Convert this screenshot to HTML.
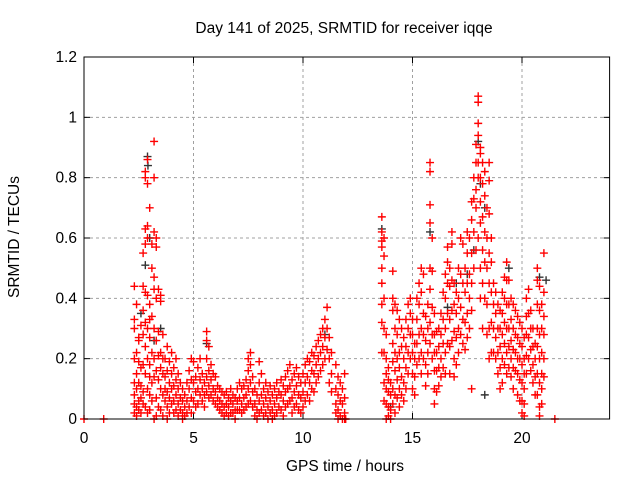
<!DOCTYPE html>
<html><head><meta charset="utf-8"><style>
html,body{margin:0;padding:0;background:#fff}
svg{display:block;font-family:"Liberation Sans",sans-serif}
</style></head><body>
<svg id="chart" width="640" height="480" viewBox="0 0 640 480" xmlns="http://www.w3.org/2000/svg">
<rect x="0" y="0" width="640" height="480" fill="#fff"/>
<text x="344" y="33" font-size="15.5" text-anchor="middle">Day 141 of 2025, SRMTID for receiver iqqe</text>
<text x="345" y="471" font-size="15.5" text-anchor="middle">GPS time / hours</text>
<text x="0" y="0" font-size="15.5" text-anchor="middle" transform="translate(19,237) rotate(-90)">SRMTID / TECUs</text>
<g id="grid"></g><g id="axes"></g><g id="blk"></g><g id="red"></g>
<rect x="84" y="57" width="525.6" height="362" fill="none" stroke="#000" stroke-width="1"/>
</svg>
<script>
const xTicks=[0,5,10,15,20];
const xTickLabels=["0","5","10","15","20"];
const yTicks=[0,0.2,0.4,0.6,0.8,1.0,1.2];
const yTickLabels=["0","0.2","0.4","0.6","0.8","1","1.2"];
const redTimes=[0,0.9,11.95,21.5,2.3,2.4,2.5,2.6,2.7,2.8,2.9,3.0,3.1,3.2,3.3,3.4,3.5,3.6,3.7,3.8,3.9,4.0,4.1,4.2,4.3,4.4,4.5,4.6,4.7,4.8,4.9,5.0,5.1,5.2,5.3,5.4,5.5,5.6,5.7,5.8,5.9,6.0,6.1,6.2,6.3,6.4,6.5,6.6,6.7,6.8,6.9,7.0,7.1,7.2,7.3,7.4,7.5,7.6,7.7,7.8,7.9,8.0,8.1,8.2,8.3,8.4,8.5,8.6,8.7,8.8,8.9,9.0,9.1,9.2,9.3,9.4,9.5,9.6,9.7,9.8,9.9,10.0,10.1,10.2,10.3,10.4,10.5,10.6,10.7,10.8,10.9,11.0,11.1,11.2,11.3,11.5,11.6,11.7,11.8,11.9,
13.6,13.7,13.8,13.9,14.0,14.1,14.2,14.3,14.4,14.5,14.6,14.7,14.8,14.9,15.0,15.1,15.2,15.3,15.4,15.5,15.6,15.7,15.8,15.9,16.0,16.1,16.2,16.3,16.4,16.5,16.6,16.7,16.8,16.9,17.0,17.1,17.2,17.3,17.4,17.5,17.6,17.7,17.8,17.9,18.0,18.1,18.2,18.3,18.4,18.5,18.6,18.7,18.8,18.9,19.0,19.1,19.2,19.3,19.4,19.5,19.6,19.7,19.8,19.9,20.0,20.1,20.2,20.3,20.4,20.5,20.6,20.7,20.8,20.9,21.0];
const redValues=[[0],[0],[0],[0],
[0.44,0.33,0.3,0.2,0.12,0.05,0.02,0.08],[0.38,0.22,0.15,0.04,0.01,0.1],[0.26,0.19,0.06,0.03,0.12,0.27],[0.31,0.17,0.07,0.02,0.11],[0.44,0.55,0.36,0.28,0.18,0.05,0.09],[0.63,0.8,0.82,0.58,0.42,0.32,0.24,0.15,0.04],[0.86,0.78,0.64,0.6,0.41,0.3,0.2,0.1,0.02],[0.7,0.38,0.33,0.27,0.18,0.08,0.03,0.14],[0.5,0.58,0.34,0.22,0.12,0.06],[0.92,0.8,0.62,0.47,0.43,0.3,0.2,0.14,0.0],[0.6,0.57,0.4,0.26,0.16,0.07,0.01],[0.43,0.29,0.21,0.13,0.04],[0.41,0.39,0.22,0.17,0.1,0.03],[0.28,0.2,0.15,0.08,0.01],[0.2,0.14,0.1,0.06],[0.24,0.16,0.09,0.04,0.0],[0.19,0.12,0.07,0.02],[0.22,0.15,0.1,0.05],[0.17,0.11,0.06,0.02],[0.2,0.13,0.08,0.03],[0.15,0.1,0.05,0.01],[0.12,0.07,0.03],[0.1,0.06,0.02,0.0],[0.08,0.04,0.01],[0.12,0.06,0.02],[0.16,0.1,0.04],[0.2,0.13,0.07,0.02],[0.19,0.12,0.06],[0.14,0.09,0.04],[0.17,0.1,0.05],[0.2,0.13,0.08],[0.15,0.1,0.06],[0.12,0.08,0.04],[0.29,0.26,0.2,0.14,0.09],[0.24,0.16,0.11,0.07],[0.18,0.13,0.08],[0.15,0.1,0.06],[0.14,0.09,0.05],[0.11,0.07,0.04],[0.1,0.06,0.03],[0.09,0.05,0.02],[0.08,0.04,0.01],[0.09,0.05,0.02],[0.07,0.04,0.01],[0.1,0.06,0.02],[0.08,0.05,0.02],[0.07,0.03,0.0],[0.1,0.06,0.03],[0.12,0.07,0.03],[0.1,0.05,0.02],[0.11,0.07,0.03],[0.13,0.08,0.04],[0.2,0.16,0.1,0.05],[0.22,0.18,0.12,0.06],[0.14,0.09,0.04],[0.1,0.05,0.01],[0.08,0.03,0.0],[0.19,0.12,0.06,0.02],[0.15,0.08,0.03],[0.1,0.05,0.01],[0.12,0.07,0.02],[0.09,0.04,0.0],[0.11,0.06,0.02],[0.08,0.03,0.0],[0.1,0.05,0.01],[0.12,0.07,0.02],[0.09,0.04],[0.13,0.08,0.03],[0.11,0.06,0.01],[0.14,0.09,0.04],[0.16,0.1,0.05],[0.18,0.11,0.06],[0.13,0.07,0.02],[0.15,0.09,0.04],[0.17,0.11,0.05],[0.14,0.08,0.03],[0.12,0.07,0.02],[0.15,0.09,0.04],[0.18,0.12,0.06],[0.2,0.14,0.08],[0.19,0.12,0.06],[0.22,0.16,0.1],[0.21,0.15,0.09],[0.24,0.18,0.12],[0.26,0.2,0.14],[0.28,0.22,0.16],[0.3,0.24,0.18],[0.33,0.27,0.2],[0.37,0.3,0.23],[0.27,0.2,0.12],[0.22,0.15,0.09],[0.18,0.1,0.05,0.02],[0.14,0.08,0.03,0.0],[0.12,0.06,0.01],[0.1,0.05,0.0],[0.15,0.07,0.02,0.0],
[0.67,0.62,0.59,0.57,0.5,0.45,0.38,0.32,0.22],[0.6,0.54,0.4,0.3,0.22,0.12,0.06],[0.28,0.2,0.15,0.1,0.05,0.0],[0.17,0.13,0.09,0.04,0.01],[0.12,0.08,0.03,0.0],[0.49,0.4,0.36,0.25,0.19,0.1,0.05],[0.38,0.3,0.22,0.16,0.08,0.02],[0.36,0.28,0.2,0.13,0.07],[0.33,0.22,0.17,0.1,0.04],[0.3,0.24,0.14,0.08],[0.27,0.2,0.12,0.06],[0.33,0.24,0.17,0.1],[0.38,0.3,0.22,0.15],[0.4,0.35,0.28,0.2],[0.33,0.28,0.22,0.15,0.1],[0.25,0.2,0.14,0.08],[0.4,0.33,0.25,0.18],[0.45,0.38,0.28,0.2],[0.5,0.42,0.3,0.22,0.15],[0.48,0.35,0.28,0.2],[0.34,0.26,0.18,0.11],[0.38,0.3,0.22,0.15],[0.85,0.82,0.71,0.65,0.5,0.43,0.32,0.25],[0.6,0.49,0.37,0.28,0.2],[0.35,0.28,0.22,0.16,0.1,0.05],[0.29,0.22,0.16,0.09],[0.3,0.24,0.17,0.11],[0.35,0.28,0.2,0.14],[0.42,0.33,0.25,0.17],[0.48,0.4,0.3,0.22,0.15],[0.57,0.52,0.45,0.35,0.25],[0.5,0.44,0.33,0.24,0.15],[0.62,0.58,0.46,0.36,0.26],[0.45,0.38,0.29,0.2,0.14],[0.42,0.35,0.27,0.18],[0.5,0.4,0.3,0.22],[0.6,0.48,0.37,0.28],[0.58,0.45,0.33,0.25],[0.5,0.42,0.32,0.23],[0.62,0.55,0.45,0.35,0.27],[0.6,0.48,0.4,0.3],[0.72,0.66,0.55,0.45,0.36,0.1],[0.8,0.73,0.62,0.5],[0.91,0.85,0.76,0.7,0.56],[1.07,1.05,0.98,0.94,0.85,0.8,0.6],[0.9,0.88,0.8,0.72,0.65,0.5,0.4],[0.85,0.78,0.67,0.56,0.45,0.3],[0.82,0.74,0.62,0.52,0.4],[0.7,0.6,0.5,0.38,0.28],[0.85,0.79,0.68,0.55,0.45,0.3,0.2],[0.6,0.52,0.42,0.32,0.22],[0.45,0.38,0.3,0.22],[0.42,0.35,0.27,0.2],[0.38,0.3,0.22,0.15],[0.36,0.3,0.24,0.17,0.1],[0.42,0.35,0.28,0.2,0.12],[0.47,0.4,0.32,0.25,0.18],[0.52,0.46,0.38,0.3,0.22,0.15],[0.46,0.38,0.3,0.24,0.17],[0.4,0.33,0.26,0.2,0.14],[0.38,0.3,0.23,0.17,0.1],[0.36,0.28,0.22,0.16],[0.34,0.27,0.2,0.15,0.08],[0.32,0.25,0.2,0.13,0.06],[0.3,0.24,0.18,0.12,0.06,0.02],[0.27,0.2,0.15,0.1,0.05,0.01],[0.4,0.34,0.28,0.21,0.15],[0.43,0.35,0.27,0.2],[0.36,0.3,0.23,0.16],[0.3,0.24,0.18,0.12],[0.25,0.2,0.14,0.08],[0.5,0.46,0.38,0.3,0.24,0.15,0.08],[0.44,0.36,0.28,0.2,0.12,0.04,0.01],[0.38,0.3,0.22,0.15,0.1,0.05],[0.55,0.42,0.34,0.28,0.2,0.14]];
const blackTimes=[2.9,2.92,2.8,3.0,2.6,3.2,3.5,5.6,11.0,13.6,14.0,15.8,16.6,17.0,17.5,17.8,18.0,18.1,18.3,18.3,19.4,20.8,21.1];
const blackValues=[0.87,0.84,0.51,0.6,0.35,0.26,0.3,0.25,0.28,0.63,0.04,0.62,0.37,0.45,0.48,0.56,0.92,0.78,0.7,0.08,0.5,0.47,0.46];

const NS="http://www.w3.org/2000/svg";
const X0=84,X1=609.6,Y0=419,Y1=57;
function xs(t){return X0+(t/24)*(X1-X0);}
function ys(v){return Y0-(v/1.2)*(Y0-Y1);}
function mk(tag,attrs,parent){const e=document.createElementNS(NS,tag);for(const k in attrs)e.setAttribute(k,attrs[k]);parent.appendChild(e);return e;}
const grid=document.getElementById('grid'),axes=document.getElementById('axes');
xTicks.forEach((t,i)=>{
  const x=xs(t);
  if(t>0){const g=mk('line',{x1:x,x2:x,y1:Y1,y2:Y0,stroke:'#a0a0a0','stroke-dasharray':'3,3','stroke-width':1},grid);
  
  }
  mk('line',{x1:x,x2:x,y1:Y0,y2:Y0-6,stroke:'#000'},axes);
  mk('line',{x1:x,x2:x,y1:Y1,y2:Y1+6,stroke:'#000'},axes);
  const l=mk('text',{x:x,y:443,'font-size':15.5,'text-anchor':'middle'},axes);l.textContent=xTickLabels[i];
  
  
});
yTicks.forEach((v,i)=>{
  const y=ys(v);
  if(v>0&&v<1.2){const g=mk('line',{x1:X0,x2:X1,y1:y,y2:y,stroke:'#a0a0a0','stroke-dasharray':'3,3','stroke-width':1},grid);
  
  }
  mk('line',{x1:X0,x2:X0+6,y1:y,y2:y,stroke:'#000'},axes);
  mk('line',{x1:X1,x2:X1-6,y1:y,y2:y,stroke:'#000'},axes);
  const l=mk('text',{x:77,y:y+5,'font-size':15.5,'text-anchor':'end'},axes);l.textContent=yTickLabels[i];
  
  
});
function plus(parent,t,v,color,name){
  const x=xs(t),y=ys(v),s=4;
  const p=mk('path',{d:`M${x-s},${y}H${x+s}M${x},${y-s}V${y+s}`,stroke:color,'stroke-width':1.4,fill:'none'},parent);
  
  
}
const blk=document.getElementById('blk'),red=document.getElementById('red');
blackTimes.forEach((t,i)=>plus(blk,t,blackValues[i],'#333','black-point'));
redTimes.forEach((t,i)=>redValues[i].forEach(v=>plus(red,t,v,'#f00','red-point')));
</script>
</body></html>
